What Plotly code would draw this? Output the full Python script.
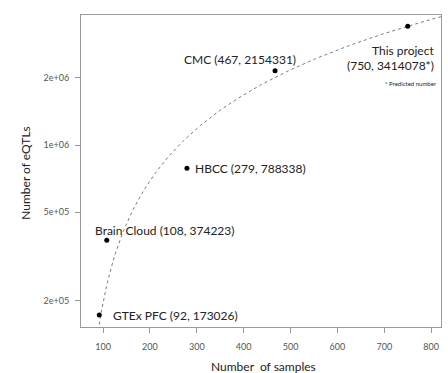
import numpy as np
import plotly.graph_objects as go

studies = ["GTEx PFC", "Brain Cloud", "HBCC", "CMC", "This project"]
samples = [92, 108, 279, 467, 750]
eqtls = [173026, 374223, 788338, 2154331, 3414078]
observed_n = 4  # first four are observed, last one is predicted

x_ticks = [100, 200, 300, 400, 500, 600, 700, 800]
y_ticks = [2e5, 5e5, 1e6, 2e6]
y_ticktext = ["2e+05", "5e+05", "1e+06", "2e+06"]

FONT = "Lato"
TXT = "#222222"

# linear regression on observed studies (drawn on the log axis)
slope, intercept = np.polyfit(samples[:observed_n], eqtls[:observed_n], 1)
xs = np.linspace(85, 821, 400)
ys = slope * xs + intercept
mask = ys > 0
xs, ys = xs[mask], ys[mask]

fig = go.Figure()
fig.add_trace(go.Scatter(x=xs, y=ys, mode="lines",
                         line=dict(color="#7a7a7a", width=1, dash="3px,3px"),
                         hoverinfo="skip", showlegend=False))
fig.add_trace(go.Scatter(x=samples, y=eqtls, mode="markers",
                         marker=dict(color="black", size=5),
                         text=studies, showlegend=False, cliponaxis=False))

def lab(i, text, xanchor, xshift, yshift, size=12):
    fig.add_annotation(x=samples[i], y=np.log10(eqtls[i]), text=text,
                       showarrow=False, xanchor=xanchor, yanchor="middle",
                       xshift=xshift, yshift=yshift,
                       font=dict(family=FONT, size=size, color=TXT))

lab(0, f"{studies[0]} ({samples[0]}, {eqtls[0]})", "left", 12, 0)
lab(1, f"{studies[1]} ({samples[1]}, {eqtls[1]})", "left", -14, 10)
lab(2, f"{studies[2]} ({samples[2]}, {eqtls[2]})", "left", 6, 0)
lab(3, f"{studies[3]} ({samples[3]}, {eqtls[3]})", "center", -35, 11)
lab(4, studies[4], "right", 28, -24)
lab(4, f"({samples[4]}, {eqtls[4]}*)", "right", 28, -39)
lab(4, "* Predicted number", "right", 31, -57, size=6)

fig.add_annotation(xref="paper", yref="paper", x=0.508, y=-0.125,
                   text="Number  of samples", showarrow=False,
                   xanchor="center", yanchor="middle",
                   font=dict(family=FONT, size=12, color=TXT))
fig.add_annotation(xref="paper", yref="paper", x=-0.153, y=0.494,
                   text="Number of eQTLs", showarrow=False, textangle=-90,
                   xanchor="center", yanchor="middle",
                   font=dict(family=FONT, size=12, color=TXT))

axis_common = dict(showline=True, mirror=True, linecolor="#9a9a9a", linewidth=1,
                   ticks="outside", ticklen=5, tickcolor="#9a9a9a", tickwidth=1,
                   showgrid=False, zeroline=False,
                   tickfont=dict(family=FONT, size=9, color="#555555"))

fig.update_xaxes(range=[53, 821], tickvals=x_ticks, ticklabelstandoff=6, **axis_common)
fig.update_yaxes(type="log", range=[5.1844, 6.5835], tickvals=y_ticks,
                 ticktext=y_ticktext, ticklabelstandoff=4, **axis_common)

fig.update_layout(width=448, height=373,
                  margin=dict(l=81, r=7, t=15, b=46),
                  paper_bgcolor="white", plot_bgcolor="white",
                  showlegend=False)

fig.write_html("out.html", config={"displayModeBar": False},
               post_script="document.body.style.margin='0px';"
                           "document.body.style.overflow='hidden';")
